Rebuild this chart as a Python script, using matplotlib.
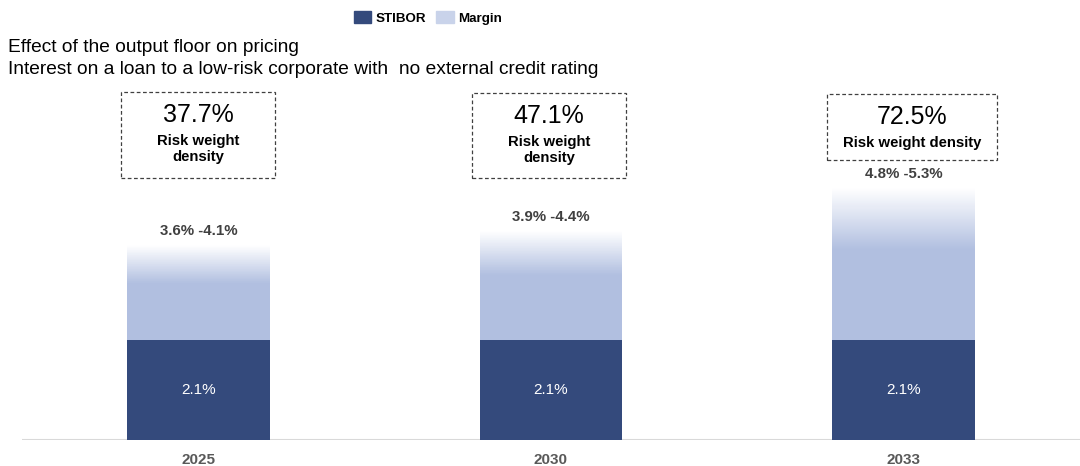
import numpy as np
import matplotlib
matplotlib.use("Agg")
import matplotlib.pyplot as plt
import matplotlib.patches as mpatches
from matplotlib.colors import to_rgb

plt.rcParams["font.family"] = ["Liberation Sans", "DejaVu Sans"]

# ── Data ───────────────────────────────────────────────────────────────────────
years       = ["2025", "2030", "2033"]
stibor      = [2.1, 2.1, 2.1]
total_low   = [3.6, 3.9, 4.8]
total_high  = [4.1, 4.4, 5.3]
rw_density  = [37.7, 47.1, 72.5]
box_labels  = ["Risk weight\ndensity", "Risk weight\ndensity", "Risk weight density"]

# ── Colors ────────────────────────────────────────────────────────────────────
COLOR_STIBOR = "#344a7c"
COLOR_MARGIN = "#b1bfe0"
COLOR_LEGEND_MARGIN = "#c9d3ea"
LABEL_GRAY = "#404040"
AXIS_GRAY = "#d9d9d9"

BAR_W = 0.405
FADE_FRAC = 0.4   # top share of the margin segment that fades out
PX = 1 / 47.5     # data units per pixel on the y axis

fig = plt.figure(figsize=(10.8, 4.66), dpi=100)
ax = fig.add_axes([22 / 1080, 26 / 466, 1058 / 1080, 360 / 466])
ax.set_xlim(-0.5, 2.5)
ax.set_ylim(0, 360 * PX)
ax.axis("off")

# baseline
ax.axhline(0, color=AXIS_GRAY, linewidth=1.5, zorder=1)

x = np.arange(len(years))
margin_rgb = np.array(to_rgb(COLOR_MARGIN))
white = np.ones(3)

for i, xi in enumerate(x):
    # STIBOR segment
    ax.bar(xi, stibor[i], BAR_W, color=COLOR_STIBOR, linewidth=0, zorder=2)
    ax.text(xi, stibor[i] / 2, f"{stibor[i]:.1f}%", ha="center", va="center",
            color="white", fontsize=11, zorder=4)

    # margin segment: solid part, then fading range on top
    margin = total_high[i] - stibor[i]
    fade_start = total_high[i] - FADE_FRAC * margin
    ax.bar(xi, fade_start - stibor[i], BAR_W, bottom=stibor[i],
           color=COLOR_MARGIN, linewidth=0, zorder=2)
    n = 60
    edges = np.linspace(fade_start, total_high[i], n + 1)
    dh = edges[1] - edges[0]
    for k in range(n):
        t = 1 - (k + 0.5) / n
        c = white * (1 - t) + margin_rgb * t
        ax.bar(xi, dh * 1.05, BAR_W, bottom=edges[k], color=c,
               linewidth=0, zorder=2)

    ax.text(xi, total_high[i] + 14 * PX, f"{total_low[i]:.1f}% -{total_high[i]:.1f}%",
            ha="center", va="center", color=LABEL_GRAY, fontsize=10.8,
            fontweight="bold", zorder=4)

    # year label under the axis
    ax.text(xi, -20 * PX, years[i], ha="center", va="center", color="#595959",
            fontsize=11, fontweight="bold", clip_on=False)

# ── Risk weight density boxes ─────────────────────────────────────────────────
# (x offset, width in category units, top and bottom in pixels above the baseline)
box_geom = [(0.0, 0.436, 348, 262), (-0.005, 0.436, 347, 262), (0.024, 0.482, 346, 280)]
for i, xi in enumerate(x):
    dx, w, top_px, bot_px = box_geom[i]
    cx = xi + dx
    top, bot = top_px * PX, bot_px * PX
    rect = mpatches.Rectangle((cx - w / 2, bot), w, top - bot, fill=False,
                              edgecolor="#404040", linestyle=(0, (3, 2)),
                              linewidth=0.9, zorder=3)
    ax.add_patch(rect)
    ax.text(cx, top - 23 * PX, f"{rw_density[i]:.1f}%", ha="center",
            va="center", fontsize=18, color="black", zorder=4)
    ax.text(cx, top - 42 * PX, box_labels[i], ha="center", va="top",
            fontsize=10.7, fontweight="bold", color="black",
            linespacing=1.2, zorder=4)

# ── Titles ────────────────────────────────────────────────────────────────────
fig.text(8 / 1080, 1 - 47 / 466, "Effect of the output floor on pricing",
         ha="left", va="center", fontsize=13.8, color="black")
fig.text(8 / 1080, 1 - 70 / 466,
         "Interest on a loan to a low-risk corporate with  no external credit rating",
         ha="left", va="center", fontsize=13.8, color="black")

# ── Legend ────────────────────────────────────────────────────────────────────
handles = [mpatches.Patch(color=COLOR_STIBOR, label="STIBOR"),
           mpatches.Patch(color=COLOR_LEGEND_MARGIN, label="Margin")]
fig.legend(handles=handles, loc="center", bbox_to_anchor=(0.396, 1 - 18 / 466),
           ncol=2, frameon=False, prop={"weight": "bold", "size": 9.6},
           handlelength=1.3, handleheight=1.0, handletextpad=0.3,
           columnspacing=0.8)

fig.savefig("out.png", dpi=100, facecolor="white")
